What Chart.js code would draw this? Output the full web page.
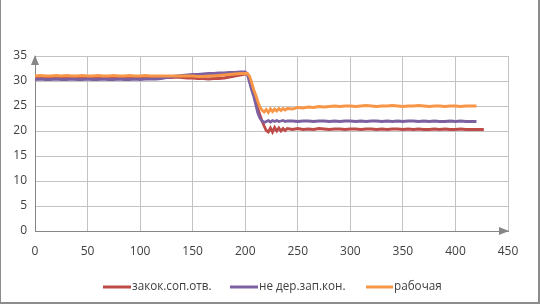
<!DOCTYPE html>
<html>
<head>
<meta charset="utf-8">
<script src="https://cdn.jsdelivr.net/npm/chart.js@4"></script>
<style>
  html, body { margin: 0; padding: 0; background: #fff; }
  #wrap { position: relative; width: 540px; height: 307px; overflow: hidden; }
  #frame { position: absolute; left: 0; top: -1px; width: 537px; height: 302px; border: 1px solid #8c8c8c; border-width: 1px 2px 2px 1px; }
  canvas { position: absolute; left: 0; top: 0; }
</style>
</head>
<body>
<div id="wrap">
  <div id="frame"></div>
  <canvas id="chart" width="540" height="307"></canvas>
</div>
<script>
// x positions of the samples
const xValues = [
  0, 5, 10, 15, 20, 25, 30, 35, 40, 45, 50, 55, 60, 65, 70, 75, 80, 85, 90, 95,
  100, 105, 110, 115, 120, 125, 130, 135, 140, 145, 150, 155, 160, 165, 170, 175, 180, 185, 190, 195, 200,
  202, 204, 206, 208, 210, 212, 214, 216, 218, 220, 222, 224, 226, 228, 230, 232, 234, 236, 238, 240,
  245, 250, 255, 260, 265, 270, 275, 280, 285, 290, 295, 300, 305, 310, 315, 320, 325, 330, 335, 340,
  345, 350, 355, 360, 365, 370, 375, 380, 385, 390, 395, 400, 405, 410, 415, 420,
  425, 427
];

const seriesNames = ["закок.соп.отв.", "не дер.зап.кон.", "рабочая"];
const seriesColors = ["#BE4B48", "#7D60A0", "#F79646"];

const redValues = [
  30.8, 30.7, 30.8, 30.8, 30.7, 30.8, 30.8, 30.7, 30.8, 30.8,
  30.7, 30.8, 30.8, 30.7, 30.8, 30.8, 30.7, 30.8, 30.8, 30.7,
  30.8, 30.8, 30.7, 30.8, 30.8, 30.7, 30.7, 30.8, 30.7, 30.6,
  30.6, 30.5, 30.5, 30.4, 30.5, 30.5, 30.6, 30.8, 31.0, 31.2,
  31.4,
  31.4, 30.6, 29.4, 28.0, 26.3, 24.5, 23.2, 22.0, 21.0, 20.1,
  19.8, 20.6, 19.8, 20.7, 20.0, 20.6, 20.0, 20.5, 20.1, 20.5,
  20.3, 20.5, 20.3, 20.4, 20.3, 20.5, 20.4, 20.3, 20.4, 20.4,
  20.3, 20.4, 20.4, 20.3, 20.4, 20.4, 20.3, 20.4, 20.3, 20.4,
  20.4, 20.3, 20.4, 20.3, 20.4, 20.3, 20.3, 20.4, 20.3, 20.4,
  20.3, 20.3, 20.4, 20.3, 20.3, 20.3,
  20.3, 20.3
];

const purpleValues = [
  30.3, 30.4, 30.3, 30.3, 30.4, 30.3, 30.3, 30.4, 30.3, 30.3,
  30.4, 30.3, 30.3, 30.4, 30.3, 30.3, 30.4, 30.3, 30.3, 30.4,
  30.3, 30.4, 30.4, 30.4, 30.5, 30.7, 30.8, 31.0, 31.1, 31.2,
  31.3, 31.3, 31.4, 31.5, 31.5, 31.6, 31.6, 31.7, 31.7, 31.8,
  31.8,
  31.4, 29.8, 28.3, 27.0, 25.3, 23.6, 22.6, 22.0, 21.7, 21.9,
  22.1, 21.8, 22.1, 21.9, 22.1, 21.9, 22.0, 22.1, 21.9, 22.0,
  22.0, 21.9, 22.0, 22.0, 21.9, 22.0, 22.0, 21.9, 22.0, 21.9,
  22.0, 22.0, 21.9, 22.0, 21.9, 22.0, 22.0, 21.9, 22.0, 21.9,
  22.0, 21.9, 22.0, 22.0, 21.9, 22.0, 21.9, 22.0, 21.9, 21.9,
  22.0, 21.9, 22.0, 21.9, 21.9, 21.9,
  null, null
];

const orangeValues = [
  31.0, 31.1, 31.0, 31.0, 31.1, 31.0, 31.1, 31.0, 31.0, 31.1,
  31.0, 31.0, 31.1, 31.0, 31.0, 31.1, 31.0, 31.0, 31.1, 31.0,
  31.0, 31.1, 31.0, 31.0, 31.0, 31.0, 31.0, 31.0, 31.0, 31.0,
  31.0, 30.9, 30.9, 31.0, 31.0, 31.1, 31.2, 31.3, 31.4, 31.5,
  31.5,
  31.5, 31.0, 29.8, 28.3, 27.2, 25.9, 24.8, 24.2, 23.8, 24.3,
  23.7, 24.4, 23.9, 24.4, 24.0, 24.5, 24.1, 24.5, 24.2, 24.5,
  24.4, 24.7, 24.6, 24.8, 24.7, 24.9, 24.8, 24.9, 25.0, 24.9,
  25.0, 25.0, 24.9, 25.0, 25.1, 25.0, 24.9, 25.0, 25.0, 25.1,
  25.0, 24.9, 25.0, 25.0, 25.1, 25.0, 24.9, 25.0, 25.0, 24.9,
  25.0, 25.0, 24.9, 25.0, 25.0, 25.0,
  null, null
];

const xTicks = [0, 50, 100, 150, 200, 250, 300, 350, 400, 450];
const yTicks = [0, 5, 10, 15, 20, 25, 30, 35];

const allValues = [redValues, purpleValues, orangeValues];

function points(values) {
  return xValues.map((x, i) => ({ x: x, y: values[i] }));
}

const FONT = "'Open Sans', sans-serif";
const TEXT = "#404040";

// arrow heads on the axes + own legend
const extras = {
  id: "extras",
  afterDraw(chart) {
    const { ctx, chartArea: a } = chart;
    ctx.save();
    ctx.fillStyle = "#868686";
    // y arrow
    ctx.beginPath();
    ctx.moveTo(a.left, a.top - 1);
    ctx.lineTo(a.left - 4, a.top + 9);
    ctx.lineTo(a.left + 4, a.top + 9);
    ctx.closePath();
    ctx.fill();
    // x arrow
    ctx.beginPath();
    ctx.moveTo(a.right + 1, a.bottom);
    ctx.lineTo(a.right - 9, a.bottom - 4);
    ctx.lineTo(a.right - 9, a.bottom + 4);
    ctx.closePath();
    ctx.fill();

    // legend
    const items = [
      { x1: 103, x2: 131, tx: 132 },
      { x1: 230, x2: 258, tx: 259 },
      { x1: 366, x2: 393, tx: 394 }
    ];
    ctx.font = "11.7px " + FONT;
    ctx.textBaseline = "middle";
    ctx.fillStyle = TEXT;
    items.forEach((it, i) => {
      ctx.strokeStyle = seriesColors[i];
      ctx.lineWidth = 3;
      ctx.beginPath();
      ctx.moveTo(it.x1, 287);
      ctx.lineTo(it.x2, 287);
      ctx.stroke();
      ctx.fillText(seriesNames[i], it.tx, 287);
    });
    ctx.restore();
  }
};

new Chart(document.getElementById("chart"), {
  type: "line",
  data: {
    datasets: allValues.map((vals, i) => ({
      label: seriesNames[i],
      data: points(vals),
      borderColor: seriesColors[i],
      borderWidth: 2.8,
      pointRadius: 0,
      tension: 0,
      spanGaps: false,
      order: 3 - i
    }))
  },
  options: {
    responsive: false,
    animation: false,
    layout: { padding: { left: 0, top: 56, right: 32, bottom: 51 } },
    plugins: { legend: { display: false }, tooltip: { enabled: false } },
    scales: {
      x: {
        type: "linear",
        min: 0, max: 450,
        afterBuildTicks: s => { s.ticks = xTicks.map(v => ({ value: v })); },
        afterFit: s => { s.height = 25; },
        grid: { color: "#c3c3c3", lineWidth: 1, drawTicks: false },
        border: { color: "#868686", width: 1 },
        ticks: { padding: 13, color: TEXT, font: { family: FONT, size: 12 }, maxRotation: 0 }
      },
      y: {
        min: 0, max: 35,
        afterBuildTicks: s => { s.ticks = yTicks.map(v => ({ value: v })); },
        afterFit: s => { s.width = 35; },
        grid: { color: "#c3c3c3", lineWidth: 1, drawTicks: false },
        border: { color: "#868686", width: 1 },
        ticks: { padding: 8, color: TEXT, font: { family: FONT, size: 12 } }
      }
    }
  },
  plugins: [extras]
});
</script>
</body>
</html>
